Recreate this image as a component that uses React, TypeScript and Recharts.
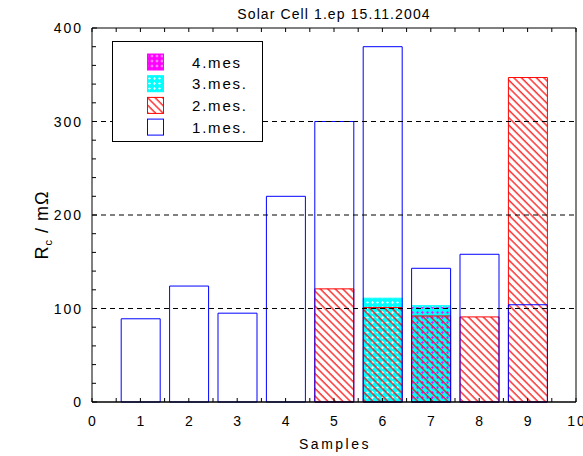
import React from 'react';
import { ComposedChart, Bar, XAxis, YAxis, ReferenceLine, Legend } from 'recharts';

const samples = [1, 2, 3, 4, 5, 6, 7, 8, 9];
const mes1 = [89, 124, 95, 220, 300, 380, 143, 158, 104];
const mes2 = [null, null, null, null, 121, 101, 92, 91, 347];
const mes3 = [null, null, null, null, null, 111, 103, null, null];
const mes4 = [null, null, null, null, null, null, 101, null, null];
const xTicks = [0, 0.5, 1, 1.5, 2, 2.5, 3, 3.5, 4, 4.5, 5, 5.5, 6, 6.5, 7, 7.5, 8, 8.5, 9, 9.5, 10];
const yTicks = [0, 20, 40, 60, 80, 100, 120, 140, 160, 180, 200, 220, 240, 260, 280, 300, 320, 340, 360, 380, 400];
const gridValues = [100, 200, 300];
const legendNames = ['4.mes', '3.mes.', '2.mes.', '1.mes.'];
const title = 'Solar Cell 1.ep 15.11.2004';

const data = samples.map((x, i) => ({ x, m1: mes1[i], m2: mes2[i], m3: mes3[i], m4: mes4[i] }));

const FONT = '"Liberation Sans", Arial, Helvetica, sans-serif';

const legendStyles = [
  { fill: 'url(#magDots)', stroke: '#ff00ff' },
  { fill: 'url(#cyanDots)', stroke: '#00ffff' },
  { fill: 'url(#hatchRed)', stroke: '#ff0000' },
  { fill: '#ffffff', stroke: '#0000ff' },
];

const LeftTick = (p: any) => {
  const v = p.payload.value;
  const major = v % 100 === 0;
  return (
    <g>
      <line x1={p.x} x2={p.x + (major ? 5 : 4)} y1={p.y} y2={p.y} stroke="#000" />
      {major && (
        <text x={p.x - 9} y={p.y} dy="0.36em" textAnchor="end" fontSize={14} letterSpacing={2} fontFamily={FONT} fill="#000">
          {v}
        </text>
      )}
    </g>
  );
};

const RightTick = (p: any) => (
  <line x1={p.x} x2={p.x - 4} y1={p.y} y2={p.y} stroke="#000" />
);

const BottomTick = (p: any) => {
  const v = p.payload.value;
  const major = Number.isInteger(v);
  return (
    <g>
      <line x1={p.x} x2={p.x} y1={p.y} y2={p.y - 4} stroke="#000" />
      {major && (
        <text x={p.x + 1} y={p.y + 24} textAnchor="middle" fontSize={14} letterSpacing={2} fontFamily={FONT} fill="#000">
          {v}
        </text>
      )}
    </g>
  );
};

const TopTick = (p: any) => (
  <line x1={p.x} x2={p.x} y1={p.y} y2={p.y + 4} stroke="#000" />
);

const YLabel = (p: any) => {
  const vb = p.viewBox;
  const cx = vb.x + 48;
  const cy = vb.y + vb.height / 2 + 10;
  return (
    <text transform={`rotate(-90 ${cx} ${cy})`} x={cx} y={cy} textAnchor="middle" fontSize={18} fontFamily={FONT} fill="#000" letterSpacing={1}>
      <tspan>R</tspan>
      <tspan fontSize={11} dy={4}>c</tspan>
      <tspan dy={-4}> / mΩ</tspan>
    </text>
  );
};

const TitleLabel = (p: any) => {
  const vb = p.viewBox;
  return (
    <text x={vb.x + vb.width / 2} y={19} textAnchor="middle" fontSize={14} letterSpacing={1.1} fontFamily={FONT} fill="#000">
      {title}
    </text>
  );
};

const XLabel = (p: any) => {
  const vb = p.viewBox;
  return (
    <text x={vb.x + vb.width / 2 + 1} y={449} textAnchor="middle" fontSize={14} letterSpacing={2.5} fontFamily={FONT} fill="#000">
      Samples
    </text>
  );
};

const LegendBox = () => (
  <svg width={151} height={101} style={{ display: 'block' }}>
    <rect x={0.5} y={0.5} width={150} height={100} fill="#fff" stroke="#000" />
    {legendNames.map((n, i) => {
      const cy = 21 + i * 21.7;
      return (
        <g key={n}>
          <rect x={35.5} y={cy - 8} width={16} height={16} fill={legendStyles[i].fill} stroke={legendStyles[i].stroke} />
          <text x={80} y={cy + 5.5} fontSize={15} letterSpacing={1.8} fontFamily={FONT} fill="#000">
            {n}
          </text>
        </g>
      );
    })}
  </svg>
);

export default function App() {
  return (
    <div style={{ position: 'absolute', left: 0, top: 0, width: 583, height: 456, background: '#fff' }}>
      <svg width={0} height={0} style={{ position: 'absolute' }}>
        <defs>
          <pattern id="hatchRed" patternUnits="userSpaceOnUse" width={5.3} height={5.3} patternTransform="rotate(-45)">
            <line x1={1} y1={0} x2={1} y2={5.3} stroke="#ff0000" strokeWidth={1.2} />
          </pattern>
          <pattern id="cyanDots" patternUnits="userSpaceOnUse" width={5} height={5}>
            <path d="M0 0H5V5H0Z M2.5 1.1 L3.9 2.5 L2.5 3.9 L1.1 2.5Z" fill="#00ffff" fillRule="evenodd" />
          </pattern>
          <pattern id="magDots" patternUnits="userSpaceOnUse" x={2.5} y={2.5} width={5} height={5}>
            <path d="M0 0H5V5H0Z M2.5 1.3 L3.7 2.5 L2.5 3.7 L1.3 2.5Z" fill="#ff00ff" fillRule="evenodd" />
          </pattern>
        </defs>
      </svg>
      <ComposedChart width={583} height={456} data={data} margin={{ top: 27, right: 6, bottom: 0, left: 0 }}>
        <XAxis
          xAxisId="b"
          dataKey="x"
          type="number"
          domain={[0, 10]}
          ticks={xTicks}
          interval={0}
          height={54}
          tickSize={0}
          tickMargin={0}
          tickLine={false}
          tick={BottomTick}
          axisLine={{ stroke: '#000', strokeWidth: 1.5 }}
          label={XLabel}
        />
        <XAxis
          xAxisId="t"
          orientation="top"
          dataKey="x"
          type="number"
          domain={[0, 10]}
          ticks={xTicks}
          interval={0}
          height={1}
          tickSize={0}
          tickMargin={0}
          tickLine={false}
          tick={TopTick}
          axisLine={{ stroke: '#000' }}
          label={TitleLabel}
        />
        <XAxis xAxisId="h2" dataKey="x" type="number" domain={[0, 10]} hide />
        <XAxis xAxisId="h3" dataKey="x" type="number" domain={[0, 10]} hide />
        <XAxis xAxisId="h4" dataKey="x" type="number" domain={[0, 10]} hide />
        <YAxis
          yAxisId="l"
          type="number"
          domain={[0, 400]}
          ticks={yTicks}
          interval={0}
          width={92}
          tickSize={0}
          tickMargin={0}
          tickLine={false}
          tick={LeftTick}
          axisLine={{ stroke: '#000' }}
          label={YLabel}
        />
        <YAxis
          yAxisId="r"
          orientation="right"
          type="number"
          domain={[0, 400]}
          ticks={yTicks}
          interval={0}
          width={1}
          tickSize={0}
          tickMargin={0}
          tickLine={false}
          tick={RightTick}
          axisLine={{ stroke: '#000' }}
        />
        {gridValues.map((v) => (
          <ReferenceLine key={v} xAxisId="b" yAxisId="l" y={v} stroke="#000" strokeDasharray="5 4" />
        ))}
        <Bar xAxisId="h4" yAxisId="l" dataKey="m4" name="4.mes" barSize={39} fill="url(#magDots)" stroke="#ff00ff" isAnimationActive={false} />
        <Bar xAxisId="h3" yAxisId="l" dataKey="m3" name="3.mes." barSize={39} fill="url(#cyanDots)" stroke="#00ffff" isAnimationActive={false} />
        <Bar xAxisId="h2" yAxisId="l" dataKey="m2" name="2.mes." barSize={39} fill="url(#hatchRed)" stroke="#ff0000" isAnimationActive={false} />
        <Bar xAxisId="b" yAxisId="l" dataKey="m1" name="1.mes." barSize={39} fill="none" stroke="#0000ff" isAnimationActive={false} />
        <Legend
          layout="vertical"
          align="center"
          verticalAlign="middle"
          content={LegendBox}
          wrapperStyle={{ left: 112, top: 41, width: 151, height: 101 }}
        />
      </ComposedChart>
    </div>
  );
}
